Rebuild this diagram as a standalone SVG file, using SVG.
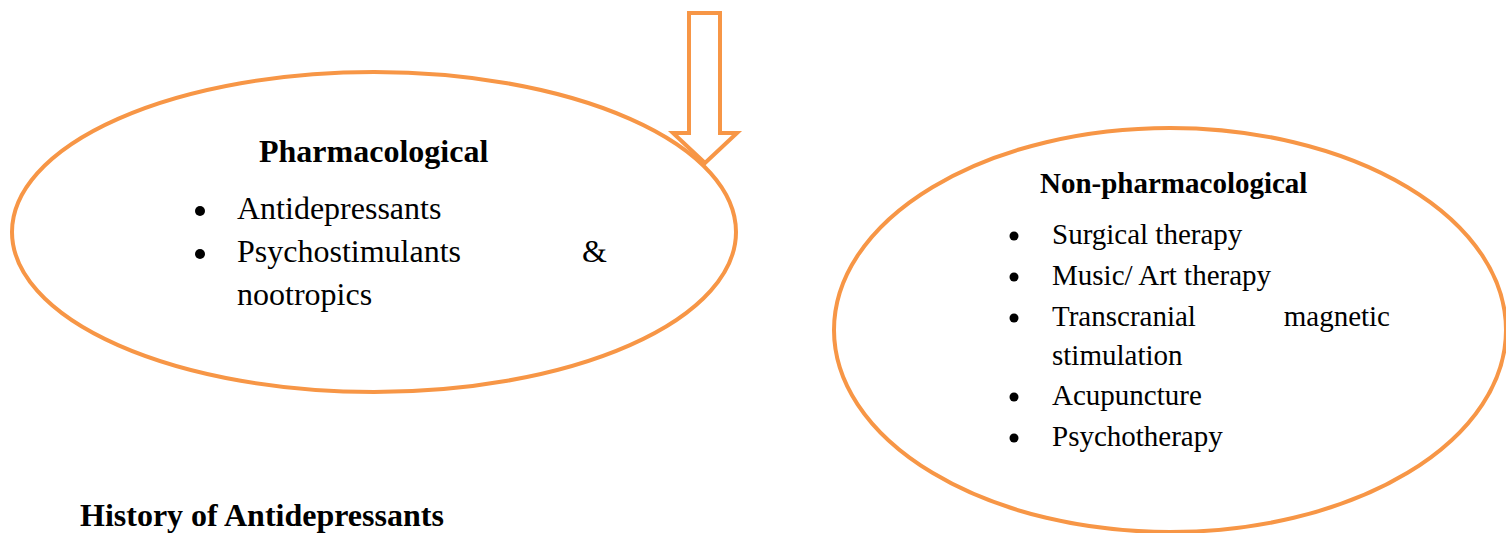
<svg xmlns="http://www.w3.org/2000/svg" width="1506" height="533" viewBox="0 0 1506 533">
<style>
.sh{fill:none;stroke:#F79646;stroke-width:4}
.t{font-family:"Liberation Serif",serif;font-size:32px;fill:#000}
.r{font-size:29px}
.b{font-weight:bold}
</style>
<rect width="1506" height="533" fill="#fff"/>
<g id="connectors">
<path class="sh" fill="#fff" d="M689,13 H720 V133 H737 L705,163 L673,133 H689 Z"/>
</g>
<g id="pharmacological">
<ellipse class="sh" cx="374" cy="232" rx="362" ry="160"/>
<text class="t b" x="259" y="162">Pharmacological</text>
<circle cx="200" cy="211" r="5"/>
<text class="t" x="237" y="219">Antidepressants</text>
<circle cx="200" cy="254" r="5"/>
<text class="t" x="237" y="262">Psychostimulants</text>
<text class="t" x="582" y="262">&amp;</text>
<text class="t" x="237" y="305">nootropics</text>
</g>
<g id="non-pharmacological">
<ellipse class="sh" cx="1170" cy="330" rx="336" ry="202"/>
<text class="t r b" x="1040" y="193">Non-pharmacological</text>
<circle cx="1014" cy="236" r="4.5"/>
<text class="t r" x="1052" y="244">Surgical therapy</text>
<circle cx="1014" cy="277" r="4.5"/>
<text class="t r" x="1052" y="285">Music/ Art therapy</text>
<circle cx="1014" cy="318" r="4.5"/>
<text class="t r" x="1052" y="326">Transcranial</text>
<text class="t r" x="1390" y="326" text-anchor="end">magnetic</text>
<text class="t r" x="1052" y="365">stimulation</text>
<circle cx="1014" cy="397" r="4.5"/>
<text class="t r" x="1052" y="405">Acupuncture</text>
<circle cx="1014" cy="438" r="4.5"/>
<text class="t r" x="1052" y="446">Psychotherapy</text>
</g>
<g id="heading">
<text class="t b" x="80" y="526">History of Antidepressants</text>
</g>
</svg>
